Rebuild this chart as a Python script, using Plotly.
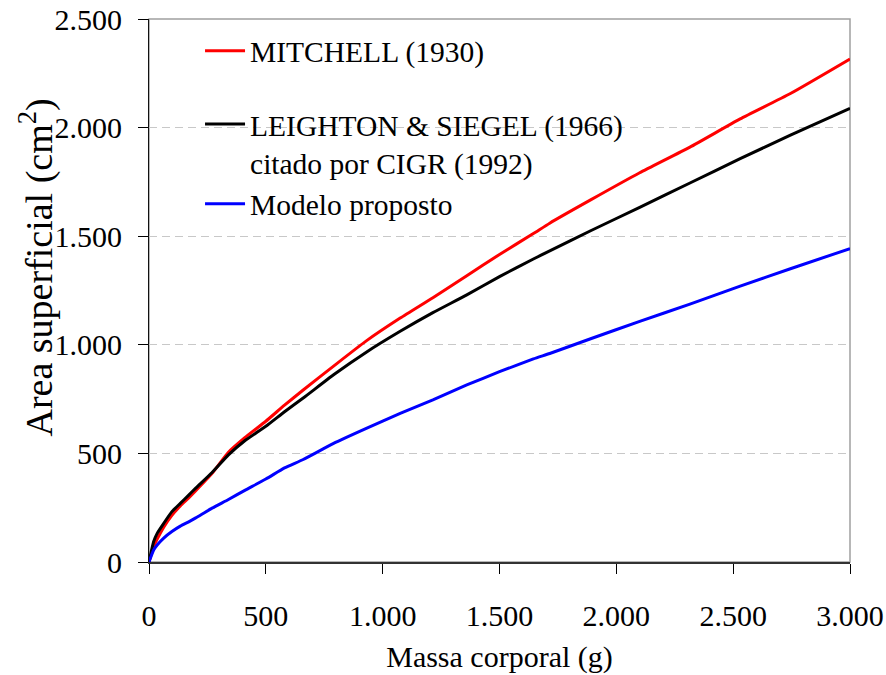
import plotly.graph_objects as go

# ---- data ----
mass = [0, 20, 35, 63, 98, 134, 170, 200, 270, 340, 410, 500, 580, 660, 790, 930,
        1075, 1215, 1360, 1500, 1645, 1715, 1890, 2100, 2315, 2530, 2745, 3000]
mitchell = [0, 70, 105, 160, 215, 258, 295, 328, 408, 505, 572, 648, 722, 792, 902, 1018,
            1123, 1217, 1318, 1416, 1512, 1560, 1667, 1792, 1910, 2040, 2157, 2316]
leighton = [0, 94, 132, 178, 232, 270, 308, 340, 412, 493, 558, 625, 692, 755, 862, 966,
            1062, 1148, 1230, 1314, 1395, 1432, 1525, 1633, 1745, 1857, 1965, 2089]
modelo = [0, 55, 78, 110, 140, 165, 185, 203, 248, 288, 330, 382, 433, 472, 546, 615,
          684, 746, 815, 876, 935, 960, 1028, 1108, 1187, 1270, 1350, 1443]

x_ticks = [0, 500, 1000, 1500, 2000, 2500, 3000]
x_ticktext = ["0", "500", "1.000", "1.500", "2.000", "2.500", "3.000"]
y_ticks = [0, 500, 1000, 1500, 2000, 2500]
y_ticktext = ["0", "500", "1.000", "1.500", "2.000", "2.500"]

names = ["MITCHELL (1930)",
         "LEIGHTON & SIEGEL (1966)<br>citado por CIGR (1992)",
         "Modelo proposto"]
colors = ["#FF0000", "#000000", "#0000FF"]
groups = ["g1", "g2", "g2"]

FONT = "Liberation Serif"

fig = go.Figure()
for ys, nm, c, g in zip([mitchell, leighton, modelo], names, colors, groups):
    fig.add_trace(go.Scatter(x=mass, y=ys, mode="lines", name=nm, legendgroup=g,
                             line=dict(color=c, width=3, shape="spline", smoothing=0.5)))

fig.update_layout(
    width=886, height=675,
    margin=dict(l=149, r=36, t=19, b=113, autoexpand=False),
    paper_bgcolor="white", plot_bgcolor="white",
    font=dict(family=FONT, size=30, color="black"),
    showlegend=True,
    legend=dict(x=0.0728, y=0.989, xanchor="left", yanchor="top",
                bgcolor="rgba(0,0,0,0)", borderwidth=0,
                font=dict(family=FONT, size=29.5, color="black"),
                itemwidth=40, valign="top", traceorder="grouped",
                tracegroupgap=32),
    xaxis=dict(range=[0, 3000], tickvals=x_ticks, ticktext=x_ticktext,
               ticks="outside", ticklen=10, tickwidth=1, tickcolor="black",
               showline=True, linecolor="#333333", linewidth=1.5,
               showgrid=False, zeroline=False, ticklabelstandoff=16,
               automargin=False,
               tickfont=dict(family=FONT, size=30),
               title=dict(text="Massa corporal (g)", font=dict(family=FONT, size=30),
                          standoff=15)),
    yaxis=dict(range=[0, 2500], tickvals=y_ticks, ticktext=y_ticktext,
               ticks="outside", ticklen=10, tickwidth=1, tickcolor="black",
               showline=True, linecolor="#111111", linewidth=1,
               showgrid=True, gridcolor="#c8c8c8", gridwidth=1, griddash="8px,5px",
               zeroline=False, ticklabelstandoff=10, automargin=False,
               tickfont=dict(family=FONT, size=30)),
    shapes=[
        dict(type="rect", xref="paper", yref="paper", x0=0, x1=1, y0=0, y1=1,
             line=dict(color="#a0a0a0", width=1.5), fillcolor="rgba(0,0,0,0)",
             layer="below"),
        dict(type="rect", xref="paper", yref="paper", x0=0.0128, x1=0.7546,
             y0=0.584, y1=0.99, line=dict(width=0), fillcolor="white",
             layer="between"),
    ],
    annotations=[
        dict(text="Area superficial (cm<sup>2</sup>)", textangle=-90,
             xref="paper", yref="paper", x=-0.16, y=0.542,
             xanchor="center", yanchor="middle", showarrow=False,
             font=dict(family=FONT, size=38, color="black")),
    ],
)

fig.write_html("out.html")
